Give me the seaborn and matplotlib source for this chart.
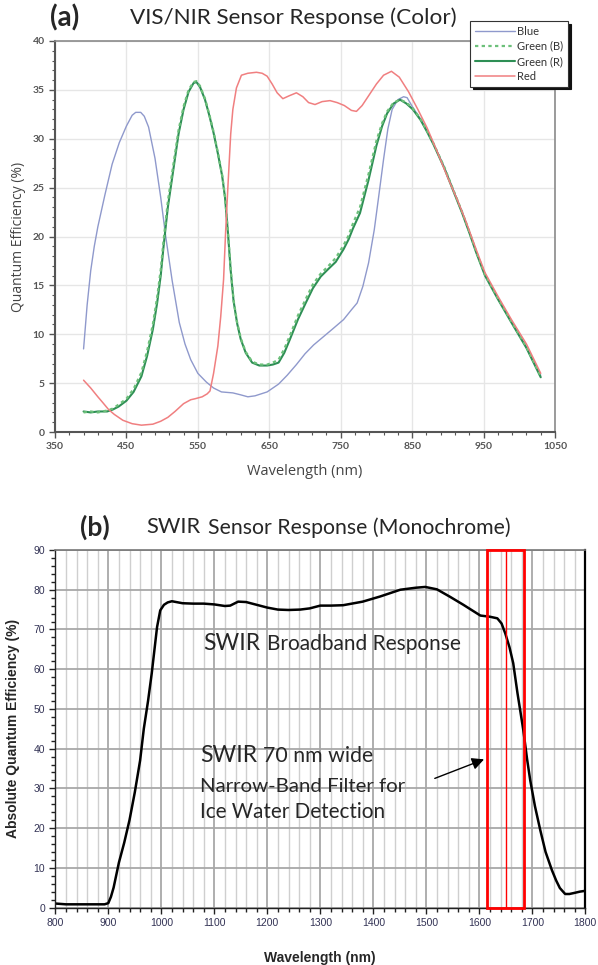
import numpy as np
import pandas as pd
import matplotlib
matplotlib.use("Agg")
import matplotlib.pyplot as plt
import seaborn as sns
from matplotlib.patches import Rectangle
from matplotlib.ticker import FixedLocator, MultipleLocator

# ---------------- data: panel (a) VIS/NIR ----------------
blue_wl = [390, 395, 400, 405, 410, 420, 430, 440, 450, 458, 463, 470, 475, 481, 490, 498,
           505, 514, 524, 532, 540, 550, 562, 572, 583, 599, 610, 620, 630, 647, 663, 675,
           688, 700, 712, 725, 738, 754, 765, 773, 781, 789, 797, 803, 810, 816, 822, 830,
           838, 843, 851, 862, 871, 880, 895, 908, 920, 930, 940, 952, 970, 989, 1010, 1030]
blue_qe = [8.5, 13.0, 16.5, 19.0, 21.0, 24.3, 27.4, 29.6, 31.3, 32.4, 32.7, 32.7, 32.3, 31.2,
           28.0, 24.0, 20.0, 15.5, 11.2, 9.0, 7.4, 6.0, 5.1, 4.5, 4.1, 4.0, 3.8, 3.6, 3.7, 4.1,
           4.9, 5.8, 6.9, 8.0, 8.9, 9.7, 10.5, 11.5, 12.5, 13.2, 14.9, 17.3, 20.7, 24.0, 27.9,
           31.0, 33.0, 34.0, 34.3, 34.2, 33.2, 32.0, 30.8, 29.5, 27.1, 24.7, 22.5, 20.5, 18.4,
           16.1, 13.7, 11.3, 8.7, 5.8]

green_wl = [390, 400, 410, 423, 431, 439, 450, 460, 471, 479, 487, 493, 498, 502, 508, 516,
            523, 530, 537, 544, 548, 553, 560, 566, 572, 578, 584, 588, 592, 596, 600, 605,
            610, 617, 626, 636, 647, 655, 663, 671, 679, 690, 701, 711, 722, 733, 743, 754,
            761, 767, 777, 789, 800, 808, 815, 824, 833, 842, 851, 862, 871, 880, 895, 908,
            920, 930, 940, 952, 970, 989, 1010, 1030]
green_r_qe = [2.1, 2.0, 2.1, 2.1, 2.3, 2.6, 3.2, 4.1, 5.7, 7.8, 10.5, 13.2, 16.0, 19.0, 23.0,
              27.0, 30.5, 33.0, 34.8, 35.7, 35.8, 35.3, 34.0, 32.4, 30.6, 28.5, 26.2, 24.0,
              20.5, 16.5, 13.4, 11.1, 9.5, 8.1, 7.1, 6.8, 6.8, 6.9, 7.1, 8.1, 9.5, 11.5, 13.2,
              14.7, 15.9, 16.7, 17.4, 18.7, 19.7, 20.8, 22.4, 25.8, 29.3, 31.3, 32.6, 33.6,
              34.0, 33.6, 33.0, 31.9, 30.7, 29.4, 27.0, 24.6, 22.4, 20.4, 18.3, 16.0, 13.6,
              11.2, 8.6, 5.6]
green_b_qe = [2.0, 2.1, 2.0, 2.2, 2.4, 2.8, 3.4, 4.4, 6.1, 8.3, 11.0, 13.8, 16.6, 19.6, 23.6,
              27.5, 30.9, 33.3, 35.0, 35.8, 35.9, 35.4, 34.1, 32.5, 30.7, 28.6, 26.3, 24.1,
              20.6, 16.6, 13.5, 11.2, 9.6, 8.2, 7.2, 6.9, 6.9, 7.1, 7.4, 8.5, 9.9, 11.9, 13.6,
              15.1, 16.2, 17.0, 17.8, 19.1, 20.1, 21.3, 23.0, 26.4, 29.8, 31.6, 32.8, 33.7,
              34.0, 33.7, 33.1, 32.0, 30.8, 29.5, 27.1, 24.7, 22.5, 20.5, 18.4, 16.1, 13.7,
              11.3, 8.7, 5.7]

red_wl = [390, 400, 410, 417, 425, 433, 445, 458, 471, 487, 498, 508, 518, 530, 540, 546,
          556, 563, 567, 572, 578, 582, 586, 589, 592, 596, 599, 604, 611, 620, 632, 640,
          647, 654, 661, 669, 678, 688, 697, 705, 714, 724, 735, 745, 755, 765, 772, 780,
          790, 800, 810, 821, 832, 845, 858, 871, 885, 900, 913, 925, 940, 952, 970, 989,
          1010, 1030]
red_qe = [5.3, 4.5, 3.6, 3.0, 2.3, 1.8, 1.2, 0.85, 0.7, 0.8, 1.1, 1.5, 2.1, 2.9, 3.3, 3.4,
          3.6, 3.9, 4.2, 6.0, 8.8, 11.8, 15.6, 20.7, 25.0, 30.5, 33.0, 35.2, 36.5, 36.7, 36.8,
          36.7, 36.4, 35.6, 34.7, 34.1, 34.4, 34.7, 34.3, 33.7, 33.5, 33.8, 33.9, 33.7, 33.4,
          32.9, 32.8, 33.4, 34.5, 35.6, 36.5, 36.9, 36.3, 34.8, 33.0, 31.1, 28.7, 26.0, 23.8,
          21.6, 18.6, 16.3, 13.9, 11.5, 9.0, 6.0]

# ---------------- data: panel (b) SWIR ----------------
swir_wl = [800, 820, 850, 880, 893, 900, 905, 910, 920, 930, 940, 950, 960, 967, 975, 982,
           992, 998, 1005, 1012, 1020, 1040, 1060, 1080, 1100, 1120, 1130, 1145, 1160, 1180,
           1200, 1220, 1240, 1262, 1280, 1300, 1320, 1343, 1380, 1413, 1451, 1480, 1498, 1520,
           1545, 1570, 1602, 1620, 1634, 1642, 1649, 1657, 1664, 1672, 1683, 1690, 1696, 1705,
           1715, 1725, 1737, 1745, 1752, 1762, 1770, 1777, 1790, 1800]
swir_qe = [1.0, 0.8, 0.8, 0.8, 0.8, 1.1, 2.7, 5.0, 11.3, 16.3, 22.0, 29.0, 37.0, 45.0, 52.0,
           59.0, 70.6, 74.8, 76.2, 76.8, 77.1, 76.6, 76.5, 76.5, 76.3, 75.9, 76.0, 77.0, 76.9,
           76.2, 75.5, 75.0, 74.9, 75.0, 75.3, 76.0, 76.0, 76.1, 77.0, 78.3, 80.0, 80.5, 80.7,
           80.1, 78.2, 76.2, 73.5, 73.2, 72.8, 71.5, 69.0, 65.5, 61.5, 54.0, 44.7, 37.5, 32.1,
           25.5, 19.5, 14.0, 9.4, 6.8, 4.9, 3.4, 3.4, 3.6, 4.0, 4.2]

filter_center = 1650
filter_width = 70

# ---------------- style ----------------
sns.set_style("white")
plt.rcParams["font.family"] = ["Lato", "DejaVu Sans"]

W, H = 598, 965
fig = plt.figure(figsize=(W / 100, H / 100), dpi=100)


def fx(x):
    return x / W


def fy(y):
    return 1 - y / H


# ---------------- panel (a) ----------------
ax1 = fig.add_axes([fx(55), fy(432), (555 - 55) / W, (432 - 41) / H])

df_a = pd.concat([
    pd.DataFrame({"wl": blue_wl, "qe": blue_qe, "series": "Blue"}),
    pd.DataFrame({"wl": green_wl, "qe": green_r_qe, "series": "Green (R)"}),
    pd.DataFrame({"wl": green_wl, "qe": green_b_qe, "series": "Green (B)"}),
    pd.DataFrame({"wl": red_wl, "qe": red_qe, "series": "Red"}),
])

styles = {
    "Blue": dict(color="#8f99cc", lw=1.0, ls="-"),
    "Green (R)": dict(color="#2e8f55", lw=1.5, ls="-"),
    "Green (B)": dict(color="#6cc07a", lw=1.6, ls=(0, (1.5, 1.5))),
    "Red": dict(color="#f07f80", lw=1.1, ls="-"),
}
handles = {}
for name in ["Blue", "Green (R)", "Green (B)", "Red"]:
    sub = df_a[df_a.series == name]
    st = styles[name]
    sns.lineplot(data=sub, x="wl", y="qe", ax=ax1, color=st["color"], lw=st["lw"],
                 linestyle=st["ls"], label=name, sort=True)
    handles[name] = ax1.get_lines()[-1]

ax1.set_xlim(350, 1050)
ax1.set_ylim(0, 40)
ax1.xaxis.set_major_locator(FixedLocator(np.arange(350, 1051, 100)))
ax1.xaxis.set_minor_locator(FixedLocator(np.arange(350, 1051, 20)))
ax1.yaxis.set_major_locator(MultipleLocator(5))
ax1.yaxis.set_minor_locator(MultipleLocator(1))
ax1.grid(True, which="major", color="#e6e6e6", lw=1.0)
ax1.tick_params(which="both", direction="out", color="#555555", labelsize=7.5,
                labelcolor="#555555", bottom=True, left=True)
ax1.tick_params(which="major", length=4, width=1)
ax1.tick_params(which="minor", length=2, width=0.8)
for lab in ax1.get_xticklabels() + ax1.get_yticklabels():
    lab.set_fontweight("bold")
for s in ["left", "bottom"]:
    ax1.spines[s].set_color("#555555")
    ax1.spines[s].set_linewidth(1.5)
for s in ["top", "right"]:
    ax1.spines[s].set_color("#8a8a8a")
    ax1.spines[s].set_linewidth(1.2)
ax1.set_xlabel("Wavelength (nm)", fontsize=10.5, color="#444444", labelpad=9,
               family=["Open Sans", "DejaVu Sans"])
ax1.set_ylabel("Quantum Efficiency (%)", fontsize=10, color="#444444", labelpad=5,
               family=["Open Sans", "DejaVu Sans"])

order = ["Blue", "Green (B)", "Green (R)", "Red"]
leg = ax1.legend([handles[n] for n in order], order, loc="upper right",
                 bbox_to_anchor=(1.026, 1.051), borderaxespad=0, fontsize=8,
                 handlelength=3.6, handletextpad=0.25, labelspacing=0.38,
                 borderpad=0.4, fancybox=False, shadow={"color": "#111111", "alpha": 1},
                 edgecolor="#333333", framealpha=1)
leg.get_frame().set_linewidth(0.8)
for t in leg.get_texts():
    t.set_color("#333333")

fig.text(fx(50), fy(18), "(a)", fontsize=20, fontweight="bold", va="center", ha="left")
fig.text(fx(130), fy(18), "VIS/NIR Sensor Response (Color)", fontsize=16.2, va="center",
         ha="left")

# ---------------- panel (b) ----------------
ax2 = fig.add_axes([fx(55.3), fy(907.5), (585.3 - 55.3) / W, (907.5 - 550) / H])
df_b = pd.DataFrame({"wl": swir_wl, "qe": swir_qe})

ax2.set_xlim(800, 1800)
ax2.set_ylim(0, 90)
ax2.xaxis.set_major_locator(MultipleLocator(100))
ax2.xaxis.set_minor_locator(MultipleLocator(20))
ax2.yaxis.set_major_locator(MultipleLocator(10))
ax2.yaxis.set_minor_locator(MultipleLocator(2))
ax2.grid(True, which="minor", axis="x", color="#cfcfcf", lw=1.0)
ax2.grid(True, which="major", axis="x", color="#a8a8a8", lw=1.3)
ax2.grid(True, which="major", axis="y", color="#a8a8a8", lw=1.3)
ax2.set_axisbelow(True)

sns.lineplot(data=df_b, x="wl", y="qe", ax=ax2, color="black", lw=1.8)

ax2.add_patch(Rectangle((filter_center - filter_width / 2, 0), filter_width, 90,
                        fill=False, edgecolor="#ff0000", lw=2.0, zorder=3, clip_on=False))
ax2.axvline(filter_center, color="#ff0000", lw=1.0, zorder=3)

ax2.tick_params(which="both", direction="out", color="#222222", labelsize=7.5,
                labelcolor="#333355", bottom=True, left=True)
ax2.tick_params(which="major", length=4, width=1)
ax2.tick_params(which="minor", length=3, width=1)
for lab in ax2.get_xticklabels() + ax2.get_yticklabels():
    lab.set_family(["Liberation Sans", "DejaVu Sans"])
for s in ["left", "bottom"]:
    ax2.spines[s].set_color("#222222")
    ax2.spines[s].set_linewidth(1.0)
ax2.spines["right"].set_color("black")
ax2.spines["right"].set_linewidth(1.6)
ax2.spines["top"].set_color("#777777")
ax2.spines["top"].set_linewidth(1.2)

ax2.set_xlabel("Wavelength (nm)", fontsize=10, fontweight="bold", labelpad=16.5,
               family=["Liberation Sans", "DejaVu Sans"])
ax2.set_ylabel("Absolute Quantum Efficiency (%)", fontsize=10, fontweight="bold",
               labelpad=9.5, family=["Liberation Sans", "DejaVu Sans"])

ax2.annotate("", xy=(1609, 37.3), xytext=(1516, 32.5),
             arrowprops=dict(arrowstyle="-|>", color="black", lw=1.0,
                             mutation_scale=18, shrinkA=0, shrinkB=0))

fig.text(fx(80), fy(527), "(b)", fontsize=19, fontweight="bold", va="center", ha="left")
fig.text(fx(146), fy(527), "SWIR", fontsize=15.7, va="center", ha="left")
fig.text(fx(208), fy(528), "Sensor Response (Monochrome)", fontsize=15.3, va="center",
         ha="left")

fig.text(fx(203), fy(643), "SWIR", fontsize=16.5, va="center", ha="left")
fig.text(fx(267), fy(644), "Broadband Response", fontsize=15, va="center", ha="left")
fig.text(fx(200), fy(755), "SWIR", fontsize=16.5, va="center", ha="left")
fig.text(fx(263), fy(756), "70 nm wide", fontsize=15.3, va="center", ha="left")
fig.text(fx(200), fy(786), "Narrow-Band Filter for", fontsize=14.7, va="center", ha="left")
fig.text(fx(200), fy(812), "Ice Water Detection", fontsize=14.9, va="center", ha="left")

fig.savefig("out.png", dpi=100)
